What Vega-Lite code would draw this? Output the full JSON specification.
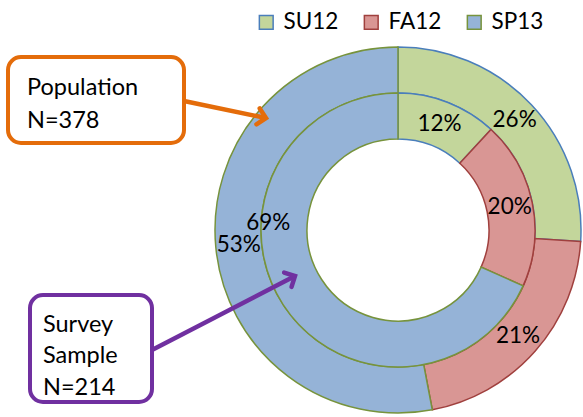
{
  "$schema": "https://vega.github.io/schema/vega-lite/v6.json",
  "width": 583,
  "height": 417,
  "autosize": "none",
  "padding": 0,
  "background": "white",
  "config": {"view": {"stroke": null}, "font": "Lato"},
  "datasets": {
    "rings": [
      {"ring": "Population", "term": "SU12", "pct": 26},
      {"ring": "Population", "term": "FA12", "pct": 21},
      {"ring": "Population", "term": "SP13", "pct": 53},
      {"ring": "Survey Sample", "term": "SU12", "pct": 12},
      {"ring": "Survey Sample", "term": "FA12", "pct": 20},
      {"ring": "Survey Sample", "term": "SP13", "pct": 69}
    ],
    "boxes": [
      {"box": "Population", "x": 8, "x2": 184, "y": 57, "y2": 143},
      {"box": "Survey Sample", "x": 30, "x2": 152, "y": 295, "y2": 402}
    ],
    "boxtext": [
      {"box": "Population", "line": "Population", "x": 27, "y": 95},
      {"box": "Population", "line": "N=378", "x": 27, "y": 128},
      {"box": "Survey Sample", "line": "Survey", "x": 43, "y": 332},
      {"box": "Survey Sample", "line": "Sample", "x": 43, "y": 363},
      {"box": "Survey Sample", "line": "N=214", "x": 43, "y": 395}
    ],
    "arrows": [
      {"box": "Population", "x": 184, "y": 101, "x2": 266, "y2": 118},
      {"box": "Survey Sample", "x": 152, "y": 350, "x2": 295, "y2": 276}
    ]
  },
  "layer": [
    {
      "data": {"name": "rings"},
      "transform": [{"filter": "datum.ring === 'Population'"}, {"calculate": "indexof(['SU12','FA12','SP13'], datum.term)", "as": "k"}],
      "mark": {"type": "arc", "radius": 183, "radius2": 137, "strokeWidth": 1.5},
      "encoding": {
        "x": {"datum": 398, "scale": {"domain": [0, 583], "nice": false, "zero": false}, "axis": null},
        "y": {"datum": 230, "scale": {"domain": [0, 417], "nice": false, "zero": false, "reverse": true}, "axis": null},
        "theta": {"field": "pct", "type": "quantitative", "stack": true},
        "order": {"field": "k", "type": "quantitative"},
        "fill": {
          "field": "term", "type": "nominal",
          "scale": {"domain": ["SU12", "FA12", "SP13"], "range": ["#c3d69b", "#d99694", "#95b3d7"]},
          "legend": {
            "title": null, "orient": "none", "direction": "horizontal",
            "legendX": 255, "legendY": 11,
            "symbolType": "square", "symbolSize": 190, "symbolStrokeWidth": 1.5, "symbolOpacity": 1,
            "labelFont": "Lato", "labelFontSize": 22.5, "labelColor": "#000",
            "labelOffset": 6, "columnPadding": 21
          }
        },
        "stroke": {
          "field": "term", "type": "nominal",
          "scale": {"domain": ["SU12", "FA12", "SP13"], "range": ["#4a7ebb", "#a0403e", "#77933c"]},
          "legend": {
            "title": null, "orient": "none", "direction": "horizontal",
            "legendX": 255, "legendY": 11,
            "symbolType": "square", "symbolSize": 190, "symbolStrokeWidth": 1.5, "symbolOpacity": 1,
            "labelFont": "Lato", "labelFontSize": 22.5, "labelColor": "#000",
            "labelOffset": 6, "columnPadding": 21
          }
        }
      }
    },
    {
      "data": {"name": "rings"},
      "transform": [{"filter": "datum.ring === 'Survey Sample'"}, {"calculate": "indexof(['SU12','FA12','SP13'], datum.term)", "as": "k"}],
      "mark": {"type": "arc", "radius": 137, "radius2": 91, "strokeWidth": 1.5},
      "encoding": {
        "x": {"datum": 398},
        "y": {"datum": 230},
        "theta": {"field": "pct", "type": "quantitative", "stack": true},
        "order": {"field": "k", "type": "quantitative"},
        "fill": {"field": "term", "type": "nominal"},
        "stroke": {"field": "term", "type": "nominal"}
      }
    },
    {
      "data": {"name": "rings"},
      "transform": [{"filter": "datum.ring === 'Population'"}, {"calculate": "indexof(['SU12','FA12','SP13'], datum.term)", "as": "k"}, {"calculate": "datum.pct + '%'", "as": "lbl"}],
      "mark": {"type": "text", "radius": 160, "font": "Lato", "fontSize": 22.5, "color": "#000"},
      "encoding": {
        "x": {"datum": 398},
        "y": {"datum": 230},
        "theta": {"field": "pct", "type": "quantitative", "stack": true},
        "order": {"field": "k", "type": "quantitative"},
        "text": {"field": "lbl"}
      }
    },
    {
      "data": {"name": "rings"},
      "transform": [{"filter": "datum.ring === 'Survey Sample'"}, {"calculate": "indexof(['SU12','FA12','SP13'], datum.term)", "as": "k"}, {"calculate": "datum.pct + '%'", "as": "lbl"}],
      "layer": [
        {
          "mark": {"type": "text", "radius": 114, "font": "Lato", "fontSize": 22.5, "color": "#000"},
          "encoding": {
            "x": {"datum": 398},
            "y": {"datum": 230},
            "theta": {"field": "pct", "type": "quantitative", "stack": true},
            "order": {"field": "k", "type": "quantitative"},
            "text": {"condition": {"test": "datum.term !== 'SP13'", "field": "lbl"}, "value": ""}
          }
        },
        {
          "mark": {"type": "text", "radius": 130, "thetaOffset": 0.63, "font": "Lato", "fontSize": 22.5, "color": "#000"},
          "encoding": {
            "x": {"datum": 398},
            "y": {"datum": 230},
            "theta": {"field": "pct", "type": "quantitative", "stack": true},
            "order": {"field": "k", "type": "quantitative"},
            "text": {"condition": {"test": "datum.term === 'SP13'", "field": "lbl"}, "value": ""}
          }
        }
      ]
    },
    {
      "data": {"name": "boxes"},
      "transform": [{"filter": "datum.box === 'Population'"}],
      "mark": {"type": "rect", "fill": "white", "stroke": "#e46c0a", "strokeWidth": 4, "cornerRadius": 13},
      "encoding": {
        "x": {"field": "x", "type": "quantitative"},
        "x2": {"field": "x2"},
        "y": {"field": "y", "type": "quantitative"},
        "y2": {"field": "y2"}
      }
    },
    {
      "data": {"name": "boxes"},
      "transform": [{"filter": "datum.box === 'Survey Sample'"}],
      "mark": {"type": "rect", "fill": "white", "stroke": "#7030a0", "strokeWidth": 4, "cornerRadius": 13},
      "encoding": {
        "x": {"field": "x", "type": "quantitative"},
        "x2": {"field": "x2"},
        "y": {"field": "y", "type": "quantitative"},
        "y2": {"field": "y2"}
      }
    },
    {
      "data": {"name": "boxtext"},
      "mark": {"type": "text", "align": "left", "baseline": "alphabetic", "font": "Lato", "fontSize": 23.5, "color": "#000"},
      "encoding": {
        "x": {"field": "x", "type": "quantitative"},
        "y": {"field": "y", "type": "quantitative"},
        "text": {"field": "line"}
      }
    },
    {
      "data": {"name": "arrows"},
      "transform": [{"filter": "datum.box === 'Population'"}, {"calculate": "atan2(datum.y2 - datum.y, datum.x2 - datum.x) * 180 / PI", "as": "ang"}],
      "layer": [
        {
          "mark": {"type": "rule", "strokeWidth": 4.5, "color": "#e46c0a"},
          "encoding": {
            "x": {"field": "x", "type": "quantitative"},
            "y": {"field": "y", "type": "quantitative"},
            "x2": {"field": "x2"},
            "y2": {"field": "y2"}
          }
        },
        {
          "mark": {"type": "point", "shape": "M -1 -1 L 0 0 L -1 1", "filled": false, "stroke": "#e46c0a", "strokeWidth": 4.5, "size": 260, "opacity": 1, "strokeCap": "round"},
          "encoding": {
            "x": {"field": "x2", "type": "quantitative"},
            "y": {"field": "y2", "type": "quantitative"},
            "angle": {"field": "ang", "type": "quantitative", "scale": null}
          }
        }
      ]
    },
    {
      "data": {"name": "arrows"},
      "transform": [{"filter": "datum.box === 'Survey Sample'"}, {"calculate": "atan2(datum.y2 - datum.y, datum.x2 - datum.x) * 180 / PI", "as": "ang"}],
      "layer": [
        {
          "mark": {"type": "rule", "strokeWidth": 4.5, "color": "#7030a0"},
          "encoding": {
            "x": {"field": "x", "type": "quantitative"},
            "y": {"field": "y", "type": "quantitative"},
            "x2": {"field": "x2"},
            "y2": {"field": "y2"}
          }
        },
        {
          "mark": {"type": "point", "shape": "M -1 -1 L 0 0 L -1 1", "filled": false, "stroke": "#7030a0", "strokeWidth": 4.5, "size": 260, "opacity": 1, "strokeCap": "round"},
          "encoding": {
            "x": {"field": "x2", "type": "quantitative"},
            "y": {"field": "y2", "type": "quantitative"},
            "angle": {"field": "ang", "type": "quantitative", "scale": null}
          }
        }
      ]
    }
  ],
  "resolve": {"scale": {"theta": "independent"}}
}
